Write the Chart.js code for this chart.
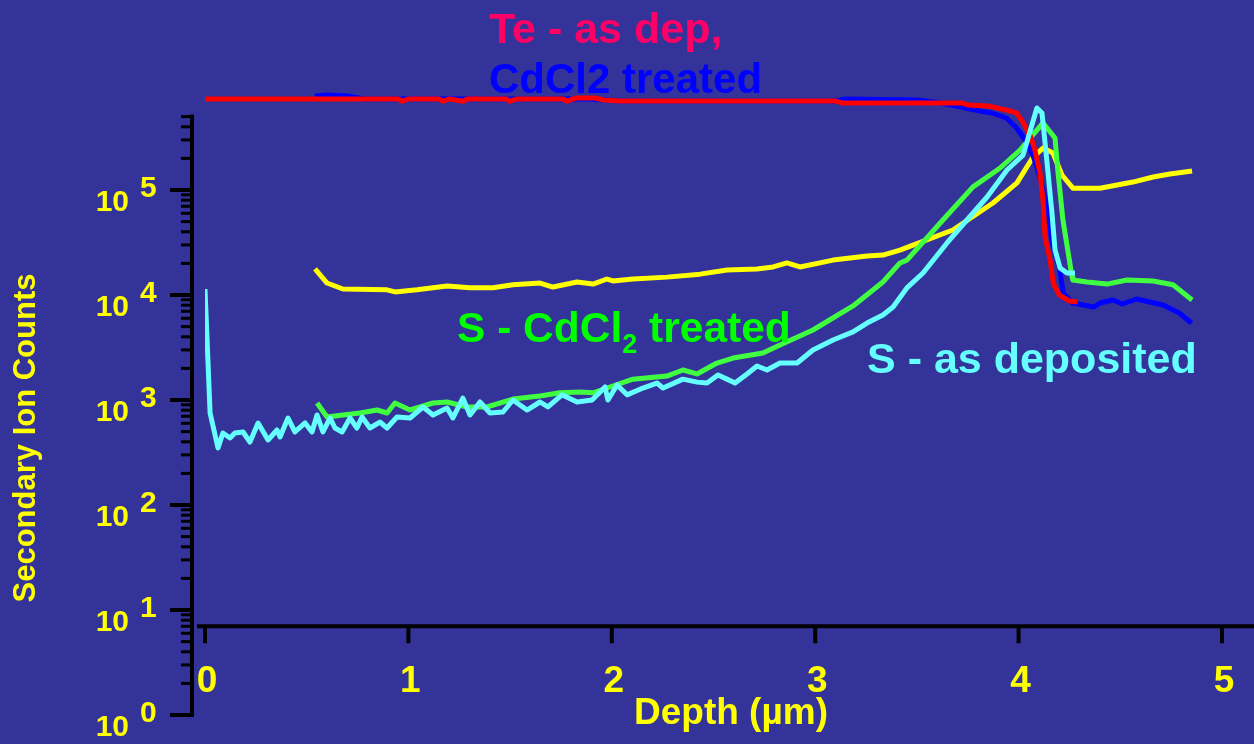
<!DOCTYPE html>
<html>
<head>
<meta charset="utf-8">
<script src="https://cdn.jsdelivr.net/npm/chart.js@4.4.1/dist/chart.umd.min.js"></script>
<style>
html,body{margin:0;padding:0;background:#333399;overflow:hidden}
canvas{display:block}
</style>
</head>
<body>
<canvas id="chart" width="1254" height="744"></canvas>
<script>
// Te - as deposited (red)
const teAsDepDepth  = [0, 0.4, 0.95, 0.97, 1.0, 1.15, 1.17, 1.2, 1.27, 1.29, 1.31, 1.48, 1.5, 1.53, 1.76, 1.78, 1.82, 1.92, 1.96, 2.04, 2.5, 3.1, 3.13, 3.5, 3.72, 3.75, 3.85, 3.94, 3.99, 4.02, 4.06, 4.08, 4.105, 4.12, 4.13, 4.155, 4.17, 4.2, 4.25, 4.29];
const teAsDepCounts = [7.36e5, 7.36e5, 7.36e5, 7.0e5, 7.36e5, 7.36e5, 7.0e5, 7.36e5, 7.0e5, 7.36e5, 7.36e5, 7.36e5, 7.0e5, 7.36e5, 7.36e5, 7.0e5, 7.5e5, 7.5e5, 7.2e5, 7.04e5, 7.04e5, 7.04e5, 6.74e5, 6.74e5, 6.74e5, 6.45e5, 6.31e5, 5.78e5, 5.41e5, 4.45e5, 3.2e5, 2.4e5, 1.45e5, 8.0e4, 3.57e4, 2.15e4, 1.3e4, 1.0e4, 8.77e3, 8.58e3];

// Te - CdCl2 treated (blue)
const teTreatedDepth  = [0.54, 0.6, 0.7, 0.78, 1.9, 2.04, 3.1, 3.15, 3.5, 3.62, 3.71, 3.81, 3.87, 3.94, 3.99, 4.04, 4.07, 4.105, 4.14, 4.165, 4.2, 4.22, 4.265, 4.37, 4.4, 4.465, 4.51, 4.58, 4.71, 4.79, 4.85];
const teTreatedCounts = [7.86e5, 8.03e5, 7.86e5, 7.36e5, 7.36e5, 7.04e5, 7.04e5, 7.36e5, 7.2e5, 6.74e5, 6.2e5, 5.65e5, 5.41e5, 4.85e5, 3.89e5, 2.86e5, 2.15e5, 1.33e5, 6.89e4, 3.13e4, 1.85e4, 1.04e4, 8.39e3, 7.69e3, 8.39e3, 8.96e3, 8.21e3, 9.16e3, 8.03e3, 6.74e3, 5.41e3];

// yellow trace
const yellowDepth  = [0.541, 0.6, 0.678, 0.895, 0.934, 1.042, 1.19, 1.303, 1.416, 1.514, 1.647, 1.711, 1.829, 1.908, 1.976, 2.006, 2.104, 2.271, 2.434, 2.566, 2.714, 2.793, 2.861, 2.925, 3.088, 3.255, 3.333, 3.417, 3.481, 3.677, 3.874, 3.992, 4.071, 4.12, 4.169, 4.213, 4.267, 4.4, 4.562, 4.661, 4.744, 4.853];
const yellowCounts = [1.77e4, 1.3e4, 1.14e4, 1.12e4, 1.07e4, 1.12e4, 1.22e4, 1.17e4, 1.17e4, 1.25e4, 1.3e4, 1.19e4, 1.33e4, 1.27e4, 1.42e4, 1.36e4, 1.42e4, 1.48e4, 1.58e4, 1.73e4, 1.77e4, 1.85e4, 2.02e4, 1.85e4, 2.15e4, 2.35e4, 2.4e4, 2.68e4, 2.99e4, 4.16e4, 7.52e4, 1.17e5, 2.06e5, 2.51e5, 2.25e5, 1.39e5, 1.04e5, 1.04e5, 1.19e5, 1.33e5, 1.42e5, 1.52e5];

// S - CdCl2 treated (green)
const sTreatedDepth  = [0.551, 0.6, 0.678, 0.762, 0.846, 0.895, 0.934, 1.008, 1.121, 1.19, 1.288, 1.386, 1.514, 1.647, 1.745, 1.844, 1.908, 1.991, 2.104, 2.271, 2.35, 2.419, 2.517, 2.596, 2.743, 2.827, 2.989, 3.186, 3.333, 3.417, 3.451, 3.628, 3.776, 3.909, 4.007, 4.12, 4.179, 4.194, 4.218, 4.263, 4.267, 4.336, 4.435, 4.533, 4.661, 4.759, 4.853];
const sTreatedCounts = [936, 689, 720, 752, 803, 752, 936, 803, 936, 957, 858, 858, 1020, 1090, 1170, 1190, 1170, 1330, 1580, 1690, 1930, 1770, 2250, 2510, 2800, 3340, 4640, 7860, 1.33e4, 2.02e4, 2.15e4, 5.18e4, 1.07e5, 1.62e5, 2.4e5, 4.35e5, 3.13e5, 1.45e5, 5.18e4, 1.48e4, 1.39e4, 1.33e4, 1.27e4, 1.39e4, 1.36e4, 1.25e4, 8960];

// S - as deposited (cyan)
const sAsDepDepth  = [0, 0.025, 0.064, 0.088, 0.123, 0.147, 0.187, 0.221, 0.261, 0.31, 0.354, 0.369, 0.408, 0.442, 0.492, 0.526, 0.551, 0.58, 0.615, 0.639, 0.674, 0.713, 0.747, 0.772, 0.811, 0.86, 0.895, 0.944, 1.008, 1.072, 1.121, 1.19, 1.219, 1.268, 1.303, 1.352, 1.401, 1.465, 1.514, 1.583, 1.647, 1.686, 1.755, 1.829, 1.903, 1.967, 1.981, 2.026, 2.075, 2.153, 2.222, 2.252, 2.35, 2.419, 2.468, 2.522, 2.566, 2.606, 2.665, 2.714, 2.763, 2.827, 2.911, 2.989, 3.088, 3.186, 3.255, 3.333, 3.383, 3.451, 3.53, 3.648, 3.746, 3.845, 3.943, 4.022, 4.09, 4.115, 4.14, 4.164, 4.179, 4.204, 4.238, 4.277];
const sAsDepCounts = [1.14e4, 752, 349, 485, 435, 485, 496, 398, 604, 416, 518, 445, 674, 496, 604, 496, 720, 496, 674, 541, 496, 674, 541, 689, 541, 617, 541, 689, 674, 858, 720, 839, 674, 1040, 720, 957, 752, 769, 1000, 803, 957, 858, 1120, 957, 1000, 1330, 1000, 1390, 1120, 1300, 1450, 1300, 1580, 1480, 1450, 1730, 1580, 1450, 1770, 2110, 1930, 2250, 2250, 2990, 3730, 4450, 5410, 6450, 7690, 1.17e4, 1.62e4, 3.13e4, 5.18e4, 8.58e4, 1.55e5, 2.15e5, 6.04e5, 5.41e5, 1.81e5, 6.04e4, 2.68e4, 1.81e4, 1.62e4, 1.62e4];

const depthTicks = [0, 1, 2, 3, 4, 5];
const decades = [0, 1, 2, 3, 4, 5];
const yAxisTop = 5e5;
const depthAxisAt = 7;   // count value where the depth axis sits

const YELLOW = '#ffff00';
const FONT = '"Liberation Sans", Arial, sans-serif';

function pts(xs, ys){ return xs.map((x,i)=>({x:x, y:ys[i]})); }

const axesPlugin = {
  id: 'axes',
  beforeDraw(chart){
    const ctx = chart.ctx;
    ctx.save();
    ctx.fillStyle = '#333399';
    ctx.fillRect(0, 0, chart.width, chart.height);
    ctx.restore();
  },
  beforeDatasetsDraw(chart){
    const {ctx, scales:{x, y}} = chart;
    const ax = x.getPixelForValue(0) - 13;
    ctx.save();
    ctx.strokeStyle = '#000';
    ctx.lineCap = 'butt';

    // count axis
    ctx.lineWidth = 4;
    ctx.beginPath();
    ctx.moveTo(ax, y.getPixelForValue(yAxisTop) - 2);
    ctx.lineTo(ax, y.getPixelForValue(1) + 2);
    ctx.stroke();
    decades.forEach(n=>{
      const p = y.getPixelForValue(Math.pow(10, n));
      ctx.lineWidth = 4;
      ctx.beginPath(); ctx.moveTo(ax - 22, p); ctx.lineTo(ax, p); ctx.stroke();
      const last = n === 5 ? 5 : 9;
      for(let k=2;k<=last;k++){
        const q = y.getPixelForValue(k*Math.pow(10, n));
        ctx.lineWidth = 3;
        ctx.beginPath(); ctx.moveTo(ax - 11, q); ctx.lineTo(ax, q); ctx.stroke();
      }
    });

    // depth axis
    const dy = y.getPixelForValue(depthAxisAt);
    ctx.lineWidth = 4;
    ctx.beginPath(); ctx.moveTo(ax + 5, dy); ctx.lineTo(chart.width, dy); ctx.stroke();
    depthTicks.forEach(t=>{
      const p = x.getPixelForValue(t);
      ctx.beginPath(); ctx.moveTo(p, dy); ctx.lineTo(p, dy + 17); ctx.stroke();
    });

    // tick labels
    ctx.fillStyle = YELLOW;
    ctx.textBaseline = 'middle';
    ctx.font = 'bold 30px ' + FONT;
    decades.forEach(n=>{
      const p = y.getPixelForValue(Math.pow(10, n));
      ctx.textAlign = 'right';
      ctx.fillText('10', ax - 63, p + 13);
      ctx.textAlign = 'left';
      ctx.fillText(String(n), ax - 52, p - 1);
    });
    ctx.font = 'bold 37px ' + FONT;
    ctx.textAlign = 'center';
    depthTicks.forEach(t=>{
      ctx.fillText(String(t), x.getPixelForValue(t) + 2, dy + 56);
    });

    // axis titles
    ctx.fillText('Depth (\u00b5m)', 731, 714);
    ctx.save();
    ctx.translate(26, 438);
    ctx.rotate(-Math.PI/2);
    ctx.font = 'bold 31px ' + FONT;
    ctx.fillText('Secondary Ion Counts', 0, 0);
    ctx.restore();
    ctx.restore();
  },
  afterDatasetsDraw(chart){
    const ctx = chart.ctx;
    ctx.save();
    ctx.textBaseline = 'alphabetic';
    ctx.textAlign = 'left';
    ctx.font = 'bold 43px ' + FONT;
    ctx.fillStyle = '#ff0066';
    ctx.fillText('Te - as dep,', 489, 43);
    ctx.font = 'bold 42px ' + FONT;
    ctx.fillStyle = '#0000ff';
    ctx.fillText('CdCl2 treated', 489, 93);

    ctx.fillStyle = '#00ff00';
    let x0 = 457;
    const a = 'S - CdCl';
    ctx.font = 'bold 42.5px ' + FONT;
    ctx.fillText(a, x0, 342);
    x0 += ctx.measureText(a).width;
    ctx.font = 'bold 27px ' + FONT;
    ctx.fillText('2', x0, 353);
    x0 += ctx.measureText('2').width;
    ctx.font = 'bold 42.5px ' + FONT;
    ctx.fillText(' treated', x0, 342);

    ctx.font = 'bold 43px ' + FONT;
    ctx.fillStyle = '#66ffff';
    ctx.fillText('S - as deposited', 867, 373);
    ctx.restore();
  }
};

function line(label, xs, ys, color){
  return {
    label: label,
    data: pts(xs, ys),
    borderColor: color,
    borderWidth: 5,
    pointRadius: 0,
    tension: 0,
    fill: false,
    borderJoinStyle: 'round'
  };
}

new Chart(document.getElementById('chart'), {
  type: 'line',
  data: {
    datasets: [
      line('S - as deposited', sAsDepDepth, sAsDepCounts, '#66ffff'),
      line('Te - as dep', teAsDepDepth, teAsDepCounts, '#ff0000'),
      line('Te - CdCl2 treated', teTreatedDepth, teTreatedCounts, '#0000ff'),
      line('S - CdCl2 treated', sTreatedDepth, sTreatedCounts, '#40ff40'),
      line('yellow', yellowDepth, yellowCounts, '#ffff00')
    ]
  },
  options: {
    responsive: false,
    animation: false,
    devicePixelRatio: 1,
    layout: { padding: { left: 205, right: 32, top: 85, bottom: 29 } },
    plugins: { legend: { display: false }, tooltip: { enabled: false } },
    scales: {
      x: { type: 'linear', min: 0, max: 5, display: false },
      y: { type: 'logarithmic', min: 1, max: 1e6, display: false }
    }
  },
  plugins: [axesPlugin]
});
</script>
</body>
</html>
